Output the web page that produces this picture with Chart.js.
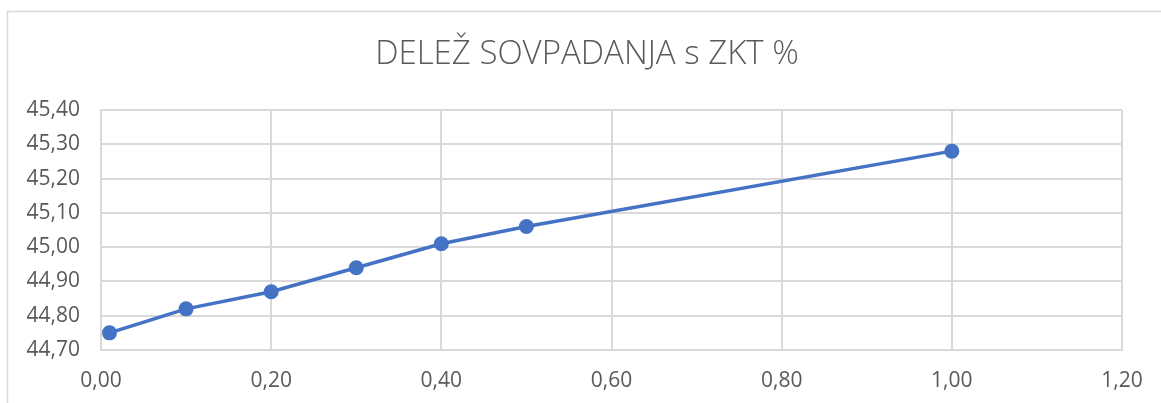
<!DOCTYPE html>
<html>
<head>
<meta charset="utf-8">
<script src="https://cdn.jsdelivr.net/npm/chart.js@4/dist/chart.umd.min.js"></script>
<style>
  html, body { margin: 0; padding: 0; background: #ffffff; }
  #wrap { width: 1161px; height: 403px; position: relative; }
  canvas { display: block; }
</style>
</head>
<body>
<div id="wrap"><canvas id="c" width="1161" height="403"></canvas></div>
<script>
// ---- Data ----
const chartTitle = 'DELEŽ SOVPADANJA s ZKT %';
const xValues = [0.01, 0.10, 0.20, 0.30, 0.40, 0.50, 1.00];
const yValues = [44.75, 44.82, 44.87, 44.94, 45.01, 45.06, 45.28];
const xTicks = [0.00, 0.20, 0.40, 0.60, 0.80, 1.00, 1.20];
const yTicks = [44.70, 44.80, 44.90, 45.00, 45.10, 45.20, 45.30, 45.40];

const points = xValues.map((x, i) => ({ x: x, y: yValues[i] }));
const fmt = v => Number(v).toFixed(2).replace('.', ',');

const FONT = "'Open Sans', 'Liberation Sans', sans-serif";
const TXT = '#595959';
const GRID = '#d9d9d9';

const frame = {
  id: 'frame',
  beforeDraw(chart) {
    const ctx = chart.ctx;
    ctx.save();
    ctx.fillStyle = '#ffffff';
    ctx.fillRect(0, 0, chart.width, chart.height);
    ctx.strokeStyle = GRID;
    ctx.lineWidth = 1.5;
    ctx.strokeRect(7.5, 11.5, chart.width + 20, chart.height + 20);
    // chart title
    ctx.fillStyle = TXT;
    ctx.font = "300 33px " + FONT;
    ctx.textAlign = 'center';
    ctx.textBaseline = 'middle';
    ctx.fillText(chartTitle, 587, 55);
    ctx.restore();
  }
};

new Chart(document.getElementById('c'), {
  type: 'scatter',
  data: {
    datasets: [{
      data: points,
      showLine: true,
      borderColor: '#4472C4',
      backgroundColor: '#4472C4',
      borderWidth: 3.5,
      pointRadius: 7.5,
      pointHoverRadius: 7.5,
      pointBorderWidth: 0,
      tension: 0
    }]
  },
  options: {
    responsive: false,
    animation: false,
    events: [],
    layout: { padding: { left: 0, right: 39, top: 110, bottom: 0 } },
    plugins: {
      legend: { display: false },
      tooltip: { enabled: false },
      title: { display: false }
    },
    scales: {
      x: {
        type: 'linear',
        min: xTicks[0],
        max: xTicks[xTicks.length - 1],
        afterBuildTicks: s => { s.ticks = xTicks.map(v => ({ value: v })); },
        afterFit: s => { s.height = 53; },
        ticks: {
          callback: v => fmt(v),
          color: TXT,
          font: { family: FONT, size: 21 },
          padding: 18,
          maxRotation: 0
        },
        grid: { color: GRID, lineWidth: 2, drawTicks: false },
        border: { color: GRID, width: 2 }
      },
      y: {
        type: 'linear',
        min: yTicks[0],
        max: yTicks[yTicks.length - 1],
        afterBuildTicks: s => { s.ticks = yTicks.map(v => ({ value: v })); },
        afterFit: s => { s.width = 101; },
        ticks: {
          callback: v => fmt(v),
          color: TXT,
          font: { family: FONT, size: 21 },
          padding: 21
        },
        grid: { color: GRID, lineWidth: 2, drawTicks: false },
        border: { color: GRID, width: 2 }
      }
    }
  },
  plugins: [frame]
});
</script>
</body>
</html>
